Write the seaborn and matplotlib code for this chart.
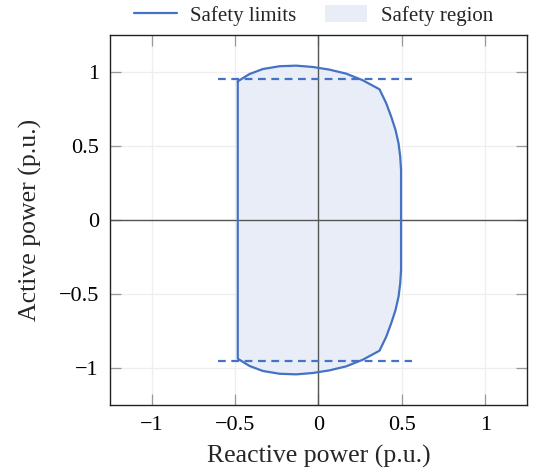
import matplotlib
matplotlib.use("Agg")
import matplotlib.pyplot as plt
import seaborn as sns
import pandas as pd
from matplotlib.patches import Patch
from matplotlib.lines import Line2D

# Boundary of the operating region (reactive power q, active power p), clockwise
q_boundary = [-0.484, -0.414, -0.334, -0.234, -0.134, -0.034, 0.066, 0.166, 0.266, 0.366,
              0.406, 0.436, 0.462, 0.480, 0.490, 0.495,
              0.495, 0.490, 0.480, 0.462, 0.436, 0.406,
              0.366, 0.266, 0.166, 0.066, -0.034, -0.134, -0.234, -0.334, -0.414, -0.484, -0.484]
p_boundary = [0.937, 0.986, 1.020, 1.039, 1.043, 1.034, 1.016, 0.989, 0.944, 0.883,
              0.789, 0.698, 0.608, 0.518, 0.428, 0.338,
              -0.338, -0.428, -0.518, -0.608, -0.698, -0.789,
              -0.883, -0.944, -0.989, -1.016, -1.034, -1.043, -1.039, -1.020, -0.986, -0.937, 0.937]

# Active power limits (dashed)
limit_q = [-0.604, 0.562]
limit_p_upper = [0.95, 0.95]
limit_p_lower = [-0.95, -0.95]

ticks = [-1, -0.5, 0, 0.5, 1]
tick_labels = ["\u22121", "\u22120.5", "0", "0.5", "1"]

line_color = "#4472C4"
fill_color = "#E8EDF7"

sns.set_theme(style="white")
plt.rcParams["font.family"] = ["Liberation Serif", "DejaVu Serif"]

fig = plt.figure(figsize=(5.35, 4.75), dpi=100)
ax = fig.add_axes([0.2056, 0.1474, 0.7794, 0.7789])

boundary = pd.DataFrame({"q": q_boundary, "p": p_boundary})
ax.fill(boundary["q"], boundary["p"], color=fill_color, lw=0, zorder=1)
sns.lineplot(data=boundary, x="q", y="p", sort=False, estimator=None,
             color=line_color, lw=1.6, ax=ax, zorder=3)

for lp in (limit_p_upper, limit_p_lower):
    sns.lineplot(x=limit_q, y=lp, sort=False, estimator=None, color=line_color,
                 lw=1.6, ax=ax, zorder=3, dashes=False).lines[-1].set_dashes((3.5, 2.5))

ax.axhline(0, color="#555555", lw=1.0, zorder=2)
ax.axvline(0, color="#555555", lw=1.0, zorder=2)

ax.set_xlim(-1.25, 1.25)
ax.set_ylim(-1.25, 1.25)
ax.set_xticks(ticks)
ax.set_xticklabels(tick_labels)
ax.set_yticks(ticks)
ax.set_yticklabels(tick_labels)
ax.grid(True, color="#eeeeee", lw=0.9, zorder=0)
ax.set_axisbelow(True)
ax.tick_params(axis="both", which="both", direction="in", length=8, width=0.9,
               color="#999999", top=True, right=True, bottom=True, left=True,
               labelsize=16, pad=8, labelcolor="black")
for s in ax.spines.values():
    s.set_color("#222222")
    s.set_linewidth(1.0)

ax.set_xlabel("Reactive power (p.u.)", fontsize=18.5, labelpad=7)
ax.set_ylabel("Active power (p.u.)", fontsize=18.5, labelpad=12)

handles = [Line2D([0], [0], color=line_color, lw=1.6),
           Patch(facecolor=fill_color, edgecolor="none")]
ax.legend(handles, ["Safety limits", "Safety region"], ncol=2, loc="lower center",
          bbox_to_anchor=(0.488, 1.0), frameon=False, fontsize=15,
          handlelength=2.05, handleheight=0.85, handletextpad=0.65,
          columnspacing=1.35, borderaxespad=0.05)

fig.savefig("out.png", dpi=100)
